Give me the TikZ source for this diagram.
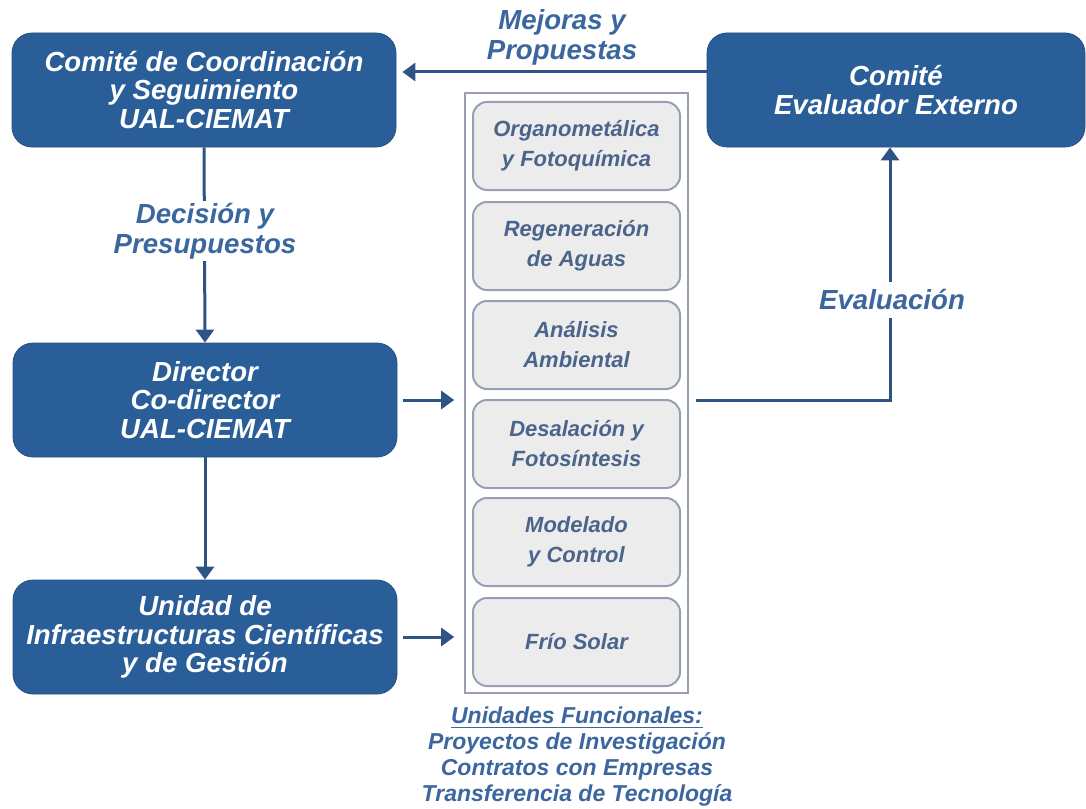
\documentclass[tikz,border=0pt]{standalone}
\usepackage{fontspec}
\setmainfont{Liberation Sans}
\usepackage{tikz}
\usetikzlibrary{arrows.meta}
\definecolor{ual-blue}{RGB}{42,94,152}
\definecolor{ual-line}{RGB}{46,84,134}
\definecolor{ual-label}{RGB}{60,102,158}
\definecolor{ual-grey}{RGB}{236,236,237}
\definecolor{ual-edge}{RGB}{150,160,178}
\definecolor{ual-text}{RGB}{74,100,138}

\begin{document}
\begin{tikzpicture}[x=0.5pt, y=-0.5pt,
    bigbox/.style={fill=ual-blue, draw=ual-blue!85!black, rounded corners=10pt,
        minimum width=192pt, minimum height=57pt, inner sep=0pt, text=white,
        align=center, font=\fontsize{13.8}{14.2}\selectfont\bfseries\itshape},
    unitbox/.style={fill=ual-grey, draw=ual-edge, line width=1pt, rounded corners=7pt,
        minimum width=103.5pt, minimum height=44pt, inner sep=0pt, text=ual-text,
        align=center, font=\fontsize{11}{15}\selectfont\bfseries\itshape},
    lbl/.style={text=ual-label, align=center,
        font=\fontsize{13.8}{15}\selectfont\bfseries\itshape},
    flow/.style={draw=ual-line, line width=1.5pt, -{Triangle[width=9pt,length=6.5pt]}},
]
\useasboundingbox (0,0) rectangle (1086,808);

% Left column
\node[bigbox] (coord)  at (204, 90)  {Comité de Coordinación\\ y Seguimiento\\ UAL-CIEMAT};
\node[bigbox] (dir)    at (205, 400) {Director\\ Co-director\\ UAL-CIEMAT};
\node[bigbox] (unidad) at (205, 637) {Unidad de\\ Infraestructuras Científicas\\ y de Gestión};
% Right column
\node[bigbox, minimum width=189pt] (eval) at (896, 90) {Comité\\ Evaluador Externo};

% Unidades funcionales
\node[draw=ual-edge, line width=0.8pt, minimum width=111.5pt, minimum height=300pt,
      inner sep=0pt] (uf) at (576.5, 393) {};
\node[unitbox] (u1) at (576.5, 146) {Organometálica\\ y Fotoquímica};
\node[unitbox] (u2) at (576.5, 246) {Regeneración\\ de Aguas};
\node[unitbox] (u3) at (576.5, 345) {Análisis\\ Ambiental};
\node[unitbox] (u4) at (576.5, 444) {Desalación y\\ Fotosíntesis};
\node[unitbox] (u5) at (576.5, 542) {Modelado\\ y Control};
\node[unitbox] (u6) at (576.5, 642) {Frío Solar};
\node[text=ual-label, align=center, font=\fontsize{11.5}{13}\selectfont\bfseries\itshape]
      (ufcap) at (577, 757)
      {\underline{Unidades Funcionales:}\\ Proyectos de Investigación\\
       Contratos con Empresas\\ Transferencia de Tecnología};

% Connectors
\coordinate (mj) at (0, 72);
\draw[flow, shorten >=3pt] (eval.west |- mj) -- (coord.east |- mj);
\draw[flow] (coord.south) -- (dir.north);
\draw[flow] (dir.south) -- (unidad.north);
\draw[flow, shorten <=3pt, shorten >=5pt] (dir.east) -- (uf.west |- dir.east);
\draw[flow, shorten <=3pt, shorten >=5pt] (unidad.east) -- (uf.west |- unidad.east);
\draw[flow, shorten <=3.5pt] (uf.east |- dir.east) -| ([xshift=-3pt]eval.south);

% Labels
\node[lbl] (mejoras) at (562, 37) {Mejoras y\\ Propuestas};
\node[lbl, fill=white, inner sep=1pt] (decision) at (205, 231) {Decisión y\\ Presupuestos};
\node[lbl, fill=white, inner xsep=1pt, inner ysep=4pt] (evaluacion) at (892, 300) {Evaluación};

\end{tikzpicture}
\end{document}
